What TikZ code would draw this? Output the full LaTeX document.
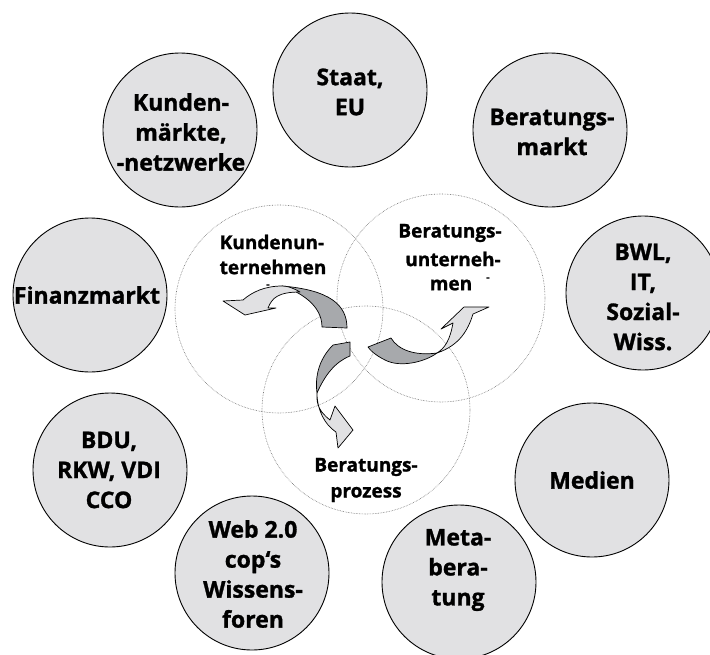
\documentclass[tikz,border=0pt]{standalone}
\usepackage{fontspec}
\setmainfont{Open Sans}[BoldFeatures={FakeBold=1.2}]
\definecolor{cfill}{HTML}{E1E1E3}
\definecolor{cdark}{HTML}{A7A9AC}
\definecolor{cdot}{HTML}{707070}
\begin{document}
\begin{tikzpicture}[x=1pt,y=-1pt,
  outer/.style={circle,draw=black,line width=0.9pt,fill=cfill,minimum size=154pt,inner sep=0pt},
  inner/.style={circle,draw=cdot,densely dotted,line width=0.6pt,minimum size=208pt,inner sep=0pt},
  otext/.style={align=center,font=\fontsize{23}{30}\selectfont\bfseries,inner sep=0pt},
  itext/.style={align=center,font=\fontsize{19}{26}\selectfont\bfseries,inner sep=0pt},
  stray/.style={font=\fontsize{10}{10}\selectfont\bfseries,inner sep=0pt},
  darkpart/.style={fill=cdark,draw=black,line width=0.7pt,line join=round},
  lightpart/.style={fill=cfill,draw=black,line width=0.7pt,line join=round}]
\useasboundingbox (0,0) rectangle (710,654);
% inner dotted circles
\node[inner] (ck) at (279,309) {};
\node[inner] (cb) at (441,298) {};
\node[inner] (cp) at (366,410) {};
% outer circles
\node[outer] (staat) at (350,90) {};
\node[outer] (kunden) at (180,130) {};
\node[outer] (bmarkt) at (550,130) {};
\node[outer] (bwl) at (643,293) {};
\node[outer] (finanz) at (90,295) {};
\node[outer] (bdu) at (110,470) {};
\node[outer] (web) at (252,573) {};
\node[outer] (meta) at (459,582) {};
\node[outer] (medien) at (592,480) {};
% outer texts
\node[otext] (tstaat) at (350,92) {Staat,\\EU};
\node[otext] (tkunden) at (181,132) {Kunden-\\märkte,\\-netzwerke};
\node[otext] (tbmarkt) at (552,132) {Beratungs-\\markt};
\node[otext] (tbwl) at (643,297) {BWL,\\IT,\\Sozial-\\Wiss.};
\node[otext] (tfinanz) at (87,295) {Finanzmarkt};
\node[otext] (tbdu) at (109,470) {BDU,\\RKW, VDI\\CCO};
\node[otext] (tweb) at (253,574) {Web 2.0\\cop‘s\\Wissens-\\foren};
\node[otext] (tmeta) at (458,570) {Meta-\\bera-\\tung};
\node[otext] (tmedien) at (592,480) {Medien};
% inner texts
\node[itext] (tku1) at (272,242) {Kundenun-};
\node[itext] (tku2) at (273,267) {ternehmen};
\node[stray] (s1) at (268,286) {-};
\node[itext] (tbu1) at (450,233) {Beratungs-};
\node[itext] (tbu2) at (453,259) {unterneh-};
\node[itext] (tbu3) at (451,285) {men};
\node[stray] (s2) at (488,279) {-};
\node[itext] (tbp) at (366,480) {Beratungs-\\prozess};
% arrow A (Kundenunternehmen)
\draw[darkpart] (322,327) -- (347,328)
  .. controls (347,305) and (330,290) .. (282,286)
  .. controls (300,292) and (322,305) .. (322,327) -- cycle;
\draw[lightpart] (282,286)
  .. controls (265,286) and (252,292) .. (243,300)
  -- (223,301) -- (245,315) -- (276,308) -- (268,308)
  .. controls (272,298) and (278,292) .. (300,292)
  .. controls (293,288) and (288,286) .. (282,286) -- cycle;
% arrow B (Beratungsunternehmen)
\draw[darkpart] (368,347) -- (391,338)
  .. controls (398,350) and (415,356) .. (437,353)
  .. controls (425,362) and (400,368) .. (385,360)
  .. controls (375,355) and (370,350) .. (368,347) -- cycle;
\draw[lightpart] (437,353)
  .. controls (445,348) and (450,340) .. (453,323)
  -- (441,329) -- (464,307) -- (489,307) -- (473,314)
  .. controls (468,330) and (460,345) .. (437,353) -- cycle;
% arrow C (Beratungsprozess)
\draw[darkpart] (333,345) -- (350,342) -- (350,356)
  .. controls (335,362) and (325,375) .. (317,393)
  .. controls (315,378) and (318,360) .. (333,345) -- cycle;
\draw[lightpart] (317,393)
  .. controls (316,405) and (320,412) .. (330,420)
  -- (335,406) -- (353,430) -- (338,448) -- (336,432)
  .. controls (325,425) and (317,410) .. (317,393) -- cycle;
\end{tikzpicture}
\end{document}
